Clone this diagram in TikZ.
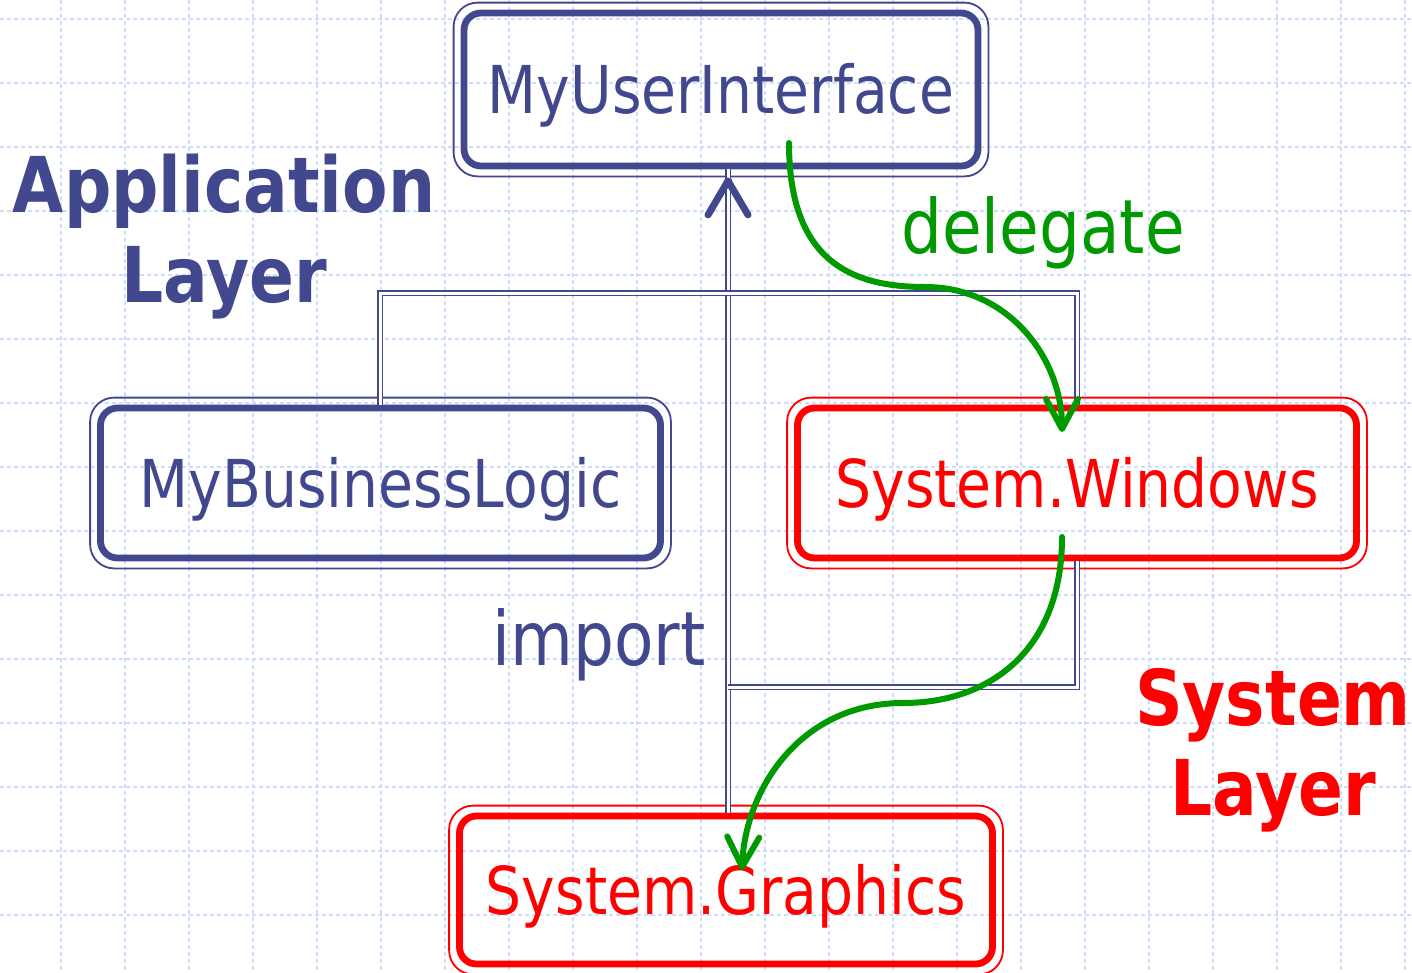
\documentclass[tikz,border=0pt]{standalone}
\usepackage{fontspec}
\setmainfont{DejaVu Sans}
\newfontfamily\labelfont[FakeStretch=0.86]{DejaVu Sans}
\usetikzlibrary{arrows.meta}
\definecolor{navy}{RGB}{66,72,142}
\definecolor{sysred}{RGB}{255,0,0}
\definecolor{dgreen}{RGB}{0,153,0}
\definecolor{gridblue}{RGB}{208,220,252}
\tikzset{
  gridline/.style={gridblue, line width=1.3pt, dash pattern=on 4pt off 3pt},
  boxstyle/.style={rounded corners=17pt, line width=6.8pt, inner sep=0pt,
    text height=48pt, text depth=0pt, font=\labelfont\fontsize{66}{70}\selectfont},
  appbox/.style={boxstyle, draw=navy, text=navy},
  sysbox/.style={boxstyle, draw=sysred, text=sysred},
  rim/.style={line width=1.8pt, rounded corners=24pt},
  dbl/.style={draw=navy, double=white, line width=1.8pt, double distance=3pt},
  flow/.style={dgreen, line width=6pt, line cap=round,
    -{Straight Barb[length=30pt,width=32pt,round]}},
  layertitle/.style={align=center, font=\labelfont\bfseries\fontsize{77}{90}\selectfont},
  tag/.style={font=\labelfont\fontsize{75}{80}\selectfont}
}
\begin{document}
\begin{tikzpicture}[x=1pt,y=-1pt]
\useasboundingbox (0,0) rectangle (1412,972);
\fill[white] (0,0) rectangle (1412,972);

% dashed background grid
\foreach \gx in {-3,61,...,1405} \draw[gridline] (\gx,0) -- (\gx,972);
\foreach \gy in {19,83,...,979} \draw[gridline] (0,\gy) -- (1412,\gy);

% modules
\node[appbox, minimum width=514pt, minimum height=153pt] (ui)  at (721,89.5) {MyUserInterface};
\node[appbox, minimum width=560pt, minimum height=150pt] (bl)  at (380.5,483) {MyBusinessLogic};
\node[sysbox, minimum width=559pt, minimum height=150pt] (win) at (1077,483) {System.Windows};
\node[sysbox, minimum width=533pt, minimum height=148pt] (gr)  at (726,890)  {System.Graphics};

% thin outer rims
\foreach \n/\c in {ui/navy,bl/navy,win/sysred,gr/sysred}
  \draw[rim,\c] ([shift={(-7pt,7pt)}]\n.north west) rectangle ([shift={(7pt,-7pt)}]\n.south east);

% layer titles and labels
\node[layertitle, navy, anchor=base] (app) at (224,302) {Application\\Layer};
\node[layertitle, sysred, anchor=base] (sys) at (1273,815) {System\\Layer};
\node[tag, dgreen, anchor=base] (dlg) at (1043,253) {delegate};
\node[tag, navy, anchor=base] (imp) at (599,665) {import};

% import dependencies
\coordinate (jl) at (380,293);
\coordinate (jr) at (1077,293);
\coordinate (jd) at (1077,687);
\coordinate (js) at (728,687);
\coordinate (tip) at (ui.south -| js);
\coordinate (foot) at (gr.north -| js);
\draw[dbl] (foot) -- (tip);
\draw[dbl] (bl.north -| jl) -- (jl) -- (jr) -- (win.north -| jr);
\draw[dbl] (win.south -| jd) -- (jd) -- (js);
\draw[navy, line width=7pt, shorten <=55pt, -{Straight Barb[length=34pt,width=40pt,round]}]
  ([yshift=-65pt]tip) -- ([yshift=-8pt]tip);

% delegation
\coordinate (d0) at (789,143);
\coordinate (d1) at (1062,432);
\coordinate (e0) at (1062,537);
\coordinate (e1) at (742,870);
\draw[flow] (d0) .. controls (789,260) and (850,287) .. (925,287)
                 .. controls (1010,287) and (1062,360) .. (d1);
\draw[flow] (e0) .. controls (1062,650) and (990,703) .. (903,703)
                 .. controls (800,703) and (745,790) .. (e1);
\end{tikzpicture}
\end{document}
